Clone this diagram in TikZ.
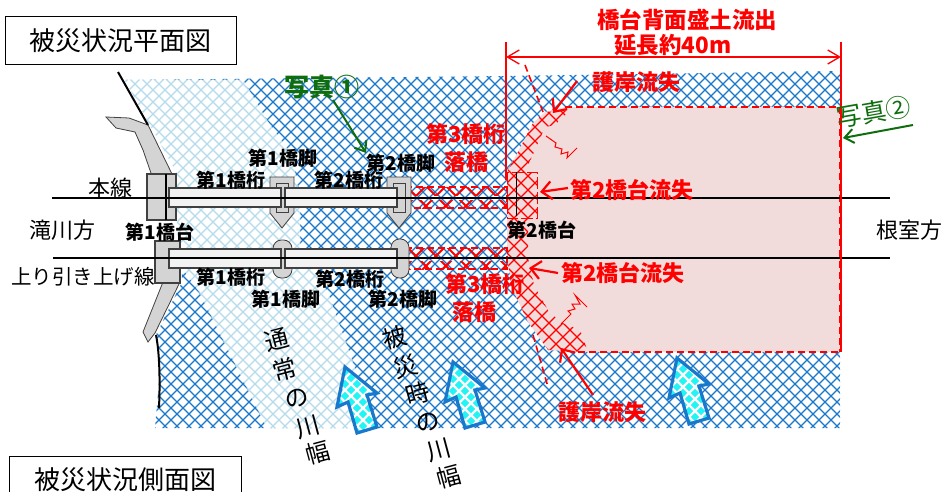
\documentclass[tikz,border=0pt]{standalone}
\usepackage{fontspec}
\setmainfont{Noto Sans CJK JP}
\usetikzlibrary{arrows.meta}
\definecolor{hblue}{HTML}{1A78CC}
\definecolor{hlight}{HTML}{B5DCEC}
\definecolor{hred}{HTML}{FF0000}
\definecolor{hcyan}{HTML}{20F4F4}
\definecolor{pinkfill}{HTML}{F2DCDB}
\definecolor{gfill}{HTML}{D4D4D4}
\definecolor{girder}{HTML}{F2F2F2}
\definecolor{gline}{HTML}{404040}
\definecolor{photo}{HTML}{0E6E0E}
\newcommand{\fsz}[1]{\fontsize{#1}{#1}\selectfont}
\newcommand{\hatchfill}[5]{% colour, width, offset, spacing, path
  \begin{scope}
    \clip #5;
    \foreach \i in {0,...,130}{
      \draw[#1,line width=#2] (\i*#4-600+#3,0) -- (\i*#4-600+#3+492,492);
      \draw[#1,line width=#2] (\i*#4-600+#3+492,0) -- (\i*#4-600+#3,492);
    }
  \end{scope}}
\tikzset{
  x=1pt,y=-1pt,
  plain/.style={inner sep=0pt,font=\fsz{#1},text=black},
  plain/.default=18,
  blab/.style={inner sep=0pt,font=\fsz{19}\bfseries,text=black},
  rlab/.style={inner sep=0pt,font=\fsz{22}\bfseries,text=hred},
  titlebox/.style={draw=black,line width=1pt,fill=white,inner sep=0pt},
  wing/.style={draw=gline,line width=.8pt,fill=gfill},
  girderbox/.style={draw=gline,line width=1.2pt,fill=girder},
  track/.style={draw=black,line width=1.8pt},
  redarrow/.style={draw=hred,line width=2.2pt,-{Straight Barb[length=10pt,width=18pt]}},
  greenarrow/.style={draw=photo,line width=2pt,-{Straight Barb[length=9pt,width=14pt]}},
  reddash/.style={draw=hred,line width=1.6pt,dash pattern=on 7pt off 4pt},
  riverarrow/.style={draw=hblue,line width=3.2pt,line join=miter},
  vchar/.style={inner sep=0pt,font=\fsz{24},rotate=15,text=black},
}
\begin{document}
\begin{tikzpicture}
\clip (0,0) rectangle (944,492);
\fill[white] (0,0) rectangle (944,492);
% river, flood width
\hatchfill{hblue}{1.1pt}{3}{12}{(125,80) -- (505,76) -- (840,71) -- (840,428) -- (155,428) -- (160,370) -- (156,335) -- (182,282) -- (180,172) -- (150,125) -- cycle}
% normal river width
\fill[white] (125,80) -- (243,80) -- (268,122) -- (292,155) -- (300,200) -- (300,245) -- (328,293) -- (352,360) -- (376,428) -- (267,428) -- (200,293) -- (178,262) -- (176,172) -- (150,125) -- cycle;
\hatchfill{hlight}{1.1pt}{3}{12}{(125,80) -- (243,80) -- (268,122) -- (292,155) -- (300,200) -- (300,245) -- (328,293) -- (352,360) -- (376,428) -- (267,428) -- (200,293) -- (178,262) -- (176,172) -- (150,125) -- cycle}
% washed-out embankment
\fill[pinkfill] (565,107) -- (840,107) -- (840,352) -- (578,352) -- (548,350) -- (528,322) -- (512,288) -- (507,258) -- (507,172) -- (520,148) -- (533,123) -- (545,112) -- cycle;
\draw[reddash] (565,107) -- (840,107);
\draw[reddash] (578,352) -- (840,352);
\draw[reddash] (840,107) -- (840,352);
% bridge 3 fallen
\foreach \yy in {187,248}{
  \hatchfill{hred}{1.8pt}{0}{20}{(402,\yy) rectangle (507,\yy+8)}
  \hatchfill{hred}{1.8pt}{0}{20}{(402,\yy+13) rectangle (507,\yy+21)}
  \draw[draw=hred,line width=2pt,dash pattern=on 7pt off 4pt] (402,\yy) rectangle (507,\yy+21);
}
% red hatched scour band
\hatchfill{hred}{1.2pt}{0}{14}{(570,110) -- (555,125) -- (545,127) -- (535,150) -- (525,172) -- (537,172) -- (537,218) -- (507,218) -- (507,172) -- (520,148) -- (533,123) -- (545,112) -- cycle}
\hatchfill{hred}{1.2pt}{0}{14}{(507,218) -- (528,218) -- (528,258) -- (534,285) -- (548,310) -- (560,322) -- (580,330) -- (588,352) -- (548,350) -- (528,322) -- (512,288) -- (507,258) -- cycle}
\draw[hred,line width=1pt,dash pattern=on 12pt off 3pt] (507,172) rectangle (537,218);
% wing walls
\path[wing] (106,117) -- (129,118) -- (148,125) -- (172,174) -- (152,176) -- (143,150) -- (135,132) -- (116,128) -- cycle;
\path[wing] (163,282) -- (143,332) -- (148,342) -- (155,333) -- (180,282) -- cycle;
% bank lines
\draw[black,line width=2pt] (118,72) -- (148,125);
\draw[black,line width=2pt] (156,335) .. controls (160,355) and (160,385) .. (159,408);
% abutments
\path[wing,line width=1.2pt] (147,174) rectangle (176,220);
\draw[black,line width=1.2pt] (166,174) -- (166,220);
\path[wing,line width=1.2pt] (155,241) rectangle (180,283);
% piers, upper
\foreach \xx in {270,387}{
  \path[wing] (\xx,177) -- (\xx+24,177) -- (\xx+24,213) -- (\xx+12,228) -- (\xx,213) -- cycle;
  \draw[gline,line width=.8pt] (\xx+6,183) rectangle (\xx+18,212);
}
% piers, lower
\path[wing,rounded corners=8.5pt] (273,240) rectangle (292,278);
\path[wing,rounded corners=8.5pt] (391,239) rectangle (409,278);
% girders
\foreach \yy in {188,249}{
  \path[girderbox] (169,\yy) rectangle (281,\yy+19);
  \path[girderbox] (285,\yy) rectangle (397,\yy+19);
}
% tracks
\draw[track] (52,198) -- (890,198);
\draw[track] (53,258) -- (890,258);
% abutment 2 centre line
\draw[black,line width=1pt] (516,172) -- (516,216);
% extent marks
\draw[hred,line width=1.5pt] (506,42) -- (506,180);
\draw[hred,line width=1.5pt] (841,42) -- (841,352);
\coordinate (extL) at (506,57);
\coordinate (extR) at (841,57);
\draw[hred,line width=1.3pt,{Straight Barb[length=12pt,width=14pt]}-{Straight Barb[length=12pt,width=14pt]}] (extL) -- (extR);
% former revetment lines
\draw[reddash] (525,65) -- (543,112);
\draw[reddash] (533,335) -- (548,387);
% break marks
\draw[hred,line width=1pt] (546,136) -- (556,143) -- (555,147) -- (562,149) -- (561,154) -- (568,152) -- (567,158) -- (577,148);
\draw[hred,line width=1pt] (561,324) -- (571,314) -- (568,311) -- (575,309) -- (572,304) -- (580,304) -- (575,295) -- (587,307);
% river arrows
\foreach \dx/\dy in {0/0,108/-5,332/-9}{
  \begin{scope}[shift={(\dx,\dy)}]
    \fill[hcyan] (345,367) -- (377,393) -- (367,395) -- (377,427) -- (357,433) -- (348,402) -- (337,407) -- cycle;
    \hatchfill{white}{2.2pt}{3}{12}{(345,367) -- (377,393) -- (367,395) -- (377,427) -- (357,433) -- (348,402) -- (337,407) -- cycle}
    \path[riverarrow] (345,367) -- (377,393) -- (367,395) -- (377,427) -- (357,433) -- (348,402) -- (337,407) -- cycle;
  \end{scope}
}
% title boxes
\node[titlebox,minimum width=231pt,minimum height=48pt,font=\fsz{26}] (tbA) at (120.5,41) {被災状況平面図};
\node[titlebox,minimum width=232pt,minimum height=48pt,font=\fsz{26}] (tbB) at (125,480) {被災状況側面図};
% plain labels
\node[plain=22] (honsen) at (110,188) {本線};
\node[plain=22] (takikawa) at (62,230) {滝川方};
\node[plain=20.5] (nobori) at (83,277) {上り引き上げ線};
\node[plain=22] (nemuro) at (909,230) {根室方};
% black bold labels
\node[blab] (p1a) at (283,158) {第1橋脚};
\node[blab] (g1a) at (231,180) {第1橋桁};
\node[blab] (p2a) at (401,163) {第2橋脚};
\node[blab] (g2a) at (349,180) {第2橋桁};
\node[blab] (ab1) at (160,232) {第1橋台};
\node[blab] (ab2) at (542,230) {第2橋台};
\node[blab] (g1b) at (231,277) {第1橋桁};
\node[blab] (g2b) at (350,279) {第2橋桁};
\node[blab] (p1b) at (286,299) {第1橋脚};
\node[blab] (p2b) at (403,299) {第2橋脚};
% red labels
\node[rlab] (f3a) at (466,134) {第3橋桁};
\node[rlab] (fa) at (466,162) {落橋};
\node[rlab] (f3b) at (485,284) {第3橋桁};
\node[rlab] (fb) at (474,312) {落橋};
\node[rlab] (ablostA) at (632,190) {第2橋台流失};
\node[rlab] (ablostB) at (623,273) {第2橋台流失};
\node[rlab] (revA) at (636,82) {護岸流失};
\node[rlab] (revB) at (602,412) {護岸流失};
\node[rlab,font=\fsz{22.5}\bfseries] (head1) at (687,20) {橋台背面盛土流出};
\node[rlab,font=\fsz{22.5}\bfseries] (head2) at (673,45) {延長約40m};
% red arrows
\coordinate (revAend) at (553,113);
\coordinate (revAfrom) at (577,81);
\coordinate (abAend) at (540,192);
\coordinate (abAfrom) at (568,188);
\coordinate (abBend) at (529,268);
\coordinate (abBfrom) at (558,273);
\coordinate (revBend) at (561,348);
\coordinate (revBfrom) at (593,395);
\draw[redarrow] (revAfrom) -- (revAend);
\draw[redarrow] (abAfrom) -- (abAend);
\draw[redarrow] (abBfrom) -- (abBend);
\draw[redarrow] (revBfrom) -- (revBend);
% photo marks
\node[inner sep=0pt,font=\fsz{25}\bfseries,text=photo] (ph1) at (322,87) {写真①};
\node[inner sep=0pt,font=\fsz{25},text=photo,rotate=10] (ph2) at (874,112) {写真②};
\coordinate (ph1end) at (366,153);
\coordinate (ph1from) at (333,100);
\coordinate (ph2end) at (843,138);
\coordinate (ph2from) at (913,125);
\draw[greenarrow] (ph1from) -- (ph1end);
\draw[greenarrow] (ph2from) -- (ph2end);
% river width labels
\node[vchar] (na) at (277,340) {通};
\node[vchar] (nb) at (285,370) {常};
\node[vchar] (nc) at (297,398) {の};
\node[vchar] (nd) at (308,427) {川};
\node[vchar] (ne) at (318,453) {幅};
\node[vchar] (fla) at (395,338) {被};
\node[vchar] (flb) at (406,367) {災};
\node[vchar] (flc) at (418,394) {時};
\node[vchar] (fld) at (428,422) {の};
\node[vchar] (fle) at (439,450) {川};
\node[vchar] (flf) at (449,477) {幅};
\end{tikzpicture}
\end{document}
